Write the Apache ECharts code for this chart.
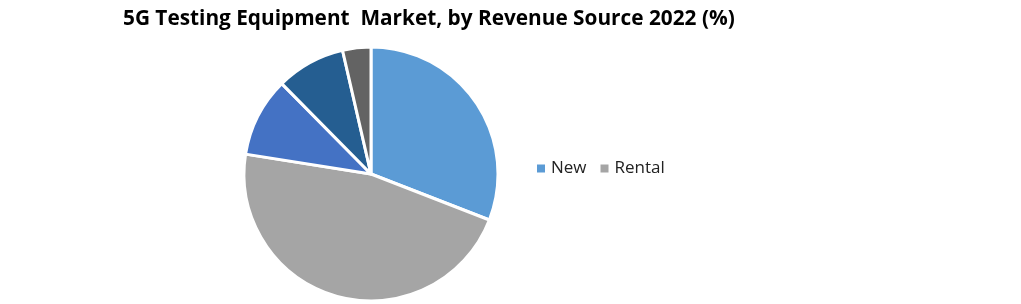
<!DOCTYPE html>
<html><head><meta charset="utf-8">
<script src="https://cdn.jsdelivr.net/npm/echarts@6/dist/echarts.min.js"></script>
<style>html,body{margin:0;padding:0;background:#fff}#c{width:1021px;height:304px}</style>
</head><body><div id="c"></div>
<script>
const categories = ['New', 'Rental', 'Segment 3', 'Segment 4', 'Segment 5'];
const values = [30.9, 46.6, 10.1, 8.8, 3.6];
const colors = ['#5B9BD5', '#A5A5A5', '#4472C4', '#255E91', '#636363'];
const legendItems = ['New', 'Rental'];
const titleText = '5G Testing Equipment  Market, by Revenue Source 2022 (%)';

const chart = echarts.init(document.getElementById('c'), null, {renderer: 'canvas'});
chart.setOption({
  animation: false,
  title: {
    text: titleText, left: 118, top: 4,
    textStyle: {fontFamily: 'Open Sans', fontWeight: 'bold', fontSize: 20.8, color: '#000'}
  },
  legend: {
    data: legendItems, left: 530, top: 155, itemWidth: 10, itemHeight: 10, itemGap: 12,
    icon: 'rect',
    textStyle: {fontFamily: 'Open Sans', fontSize: 17, color: '#222'}
  },
  series: [{
    type: 'pie', center: [371, 174], radius: 127, startAngle: 90, clockwise: true,
    label: {show: false}, labelLine: {show: false},
    itemStyle: {borderColor: '#fff', borderWidth: 3},
    data: categories.map((n, i) => ({name: n, value: values[i], itemStyle: {color: colors[i]}}))
  }]
});
</script></body></html>
